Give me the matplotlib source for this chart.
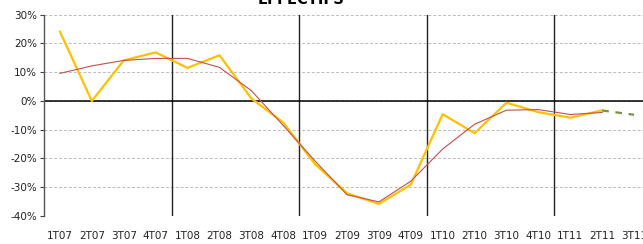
import matplotlib
matplotlib.use('Agg')
import matplotlib.pyplot as plt
from matplotlib.ticker import FuncFormatter

# Quarter labels
quarters = ['1T07', '2T07', '3T07', '4T07', '1T08', '2T08', '3T08', '4T08',
            '1T09', '2T09', '3T09', '4T09', '1T10', '2T10', '3T10', '4T10',
            '1T11', '2T11', '3T11']
# Observed change (%) - yellow
effectifs = [24.1, 0.0, 14.1, 16.9, 11.5, 15.9, 0.9, -7.5, -22.0, -32.1,
             -35.8, -29.1, -4.6, -11.2, -0.6, -3.9, -5.8, -3.3]
# Smoothed trend (%) - red
tendance = [9.6, 12.2, 14.1, 14.8, 14.8, 11.7, 3.6, -8.5, -20.9, -32.6,
            -35.1, -27.9, -16.7, -8.1, -3.2, -3.0, -4.7, -4.0]
# Forecast (%) - green dashed, from 2T11 to 3T11
prevision_q = ['2T11', '3T11']
prevision = [-3.3, -4.8]
# Year separators (between 4Tyy and 1Tyy+1)
separators = [3.5, 7.5, 11.5, 15.5]
yticks = [30, 20, 10, 0, -10, -20, -30, -40]

fig = plt.figure(figsize=(6.43, 2.44), dpi=100)
W, H = 643, 244
ax = fig.add_axes([44 / W, (H - 216) / H, (650 - 44) / W, (216 - 14.7) / H])

x = list(range(len(quarters)))
for s in separators:
    ax.axvline(s, color='#222222', lw=1, zorder=2)
ax.axhline(0, color='black', lw=1.1, zorder=2)

ax.plot(x[:len(effectifs)], effectifs, color='#FFC000', lw=1.6, zorder=3)
ax.plot(x[:len(tendance)], tendance, color='#C0504D', lw=0.8, zorder=4)
px = [quarters.index(q) for q in prevision_q]
ax.plot(px, prevision, color='#77933C', lw=1.6, ls=(0, (3, 3)), zorder=3)

ax.set_xlim(-0.5, len(quarters) - 0.5)
ax.set_ylim(-40, 30)
ax.set_yticks(yticks)
ax.yaxis.set_major_formatter(FuncFormatter(lambda v, p: '%d%%' % v))
ax.set_xticks(x)
ax.set_xticklabels(quarters)
ax.tick_params(axis='x', length=0, pad=11, labelsize=7.5, colors='#222222')
ax.tick_params(axis='y', length=3, width=0.8, direction='out', pad=2,
               labelsize=7.5, colors='#444444', labelcolor='#222222')
ax.grid(axis='y', color='#BBBBBB', ls=(0, (3, 2)), lw=0.7)
ax.set_axisbelow(True)
for side in ['top', 'right', 'bottom']:
    ax.spines[side].set_visible(False)
ax.spines['left'].set_color('#555555')
ax.spines['left'].set_linewidth(1)

fig.text(301 / W, 1 - 4.5 / H, 'EFFECTIFS', ha='center', va='baseline',
         fontsize=10.5, fontweight='bold', color='black')

fig.savefig('out.png', dpi=100)
